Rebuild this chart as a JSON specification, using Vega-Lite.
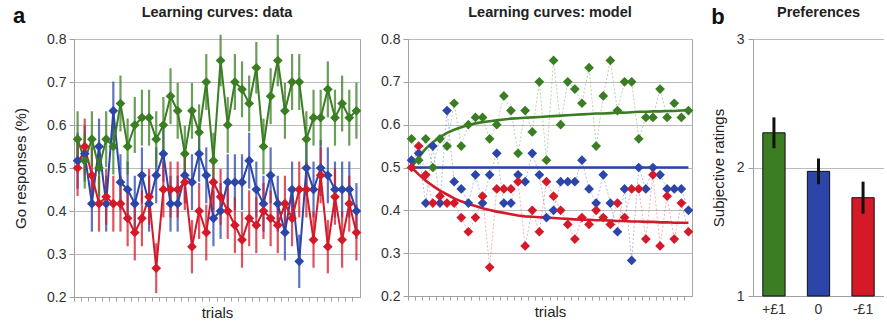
{
  "$schema": "https://vega.github.io/schema/vega-lite/v6.json",
  "padding": {"left": 13, "top": 4, "right": 0, "bottom": 0},
  "background": "white",
  "config": {
    "font": "Liberation Sans",
    "view": {"stroke": "#a6a6a6"},
    "axis": {"labelFontSize": 14, "titleFontSize": 15, "titleFontWeight": "normal", "labelColor": "#333333", "titleColor": "#222222", "domainColor": "#a0a0a0", "tickColor": "#a0a0a0", "gridColor": "#bbbbbb"},
    "title": {"fontSize": 14.5, "fontWeight": "bold", "frame": "group", "offset": 12, "color": "#222222"}
  },
  "datasets": {
    "trials": [
      {"t":1,"s":"neu","v":0.517,"e":0.065,"m":0.5},{"t":2,"s":"neu","v":0.533,"e":0.065,"m":0.5},{"t":3,"s":"neu","v":0.417,"e":0.065,"m":0.5},{"t":4,"s":"neu","v":0.55,"e":0.065,"m":0.5},{"t":5,"s":"neu","v":0.417,"e":0.065,"m":0.5},{"t":6,"s":"neu","v":0.633,"e":0.068,"m":0.5},{"t":7,"s":"neu","v":0.467,"e":0.065,"m":0.5},{"t":8,"s":"neu","v":0.45,"e":0.065,"m":0.5},{"t":9,"s":"neu","v":0.417,"e":0.065,"m":0.5},{"t":10,"s":"neu","v":0.483,"e":0.065,"m":0.5},
      {"t":11,"s":"neu","v":0.417,"e":0.065,"m":0.5},{"t":12,"s":"neu","v":0.483,"e":0.065,"m":0.5},{"t":13,"s":"neu","v":0.533,"e":0.065,"m":0.5},{"t":14,"s":"neu","v":0.417,"e":0.065,"m":0.5},{"t":15,"s":"neu","v":0.417,"e":0.065,"m":0.5},{"t":16,"s":"neu","v":0.483,"e":0.065,"m":0.5},{"t":17,"s":"neu","v":0.467,"e":0.065,"m":0.5},{"t":18,"s":"neu","v":0.533,"e":0.065,"m":0.5},{"t":19,"s":"neu","v":0.483,"e":0.065,"m":0.5},{"t":20,"s":"neu","v":0.383,"e":0.065,"m":0.5},
      {"t":21,"s":"neu","v":0.4,"e":0.065,"m":0.5},{"t":22,"s":"neu","v":0.467,"e":0.065,"m":0.5},{"t":23,"s":"neu","v":0.467,"e":0.065,"m":0.5},{"t":24,"s":"neu","v":0.467,"e":0.065,"m":0.5},{"t":25,"s":"neu","v":0.517,"e":0.065,"m":0.5},{"t":26,"s":"neu","v":0.45,"e":0.065,"m":0.5},{"t":27,"s":"neu","v":0.417,"e":0.065,"m":0.5},{"t":28,"s":"neu","v":0.483,"e":0.065,"m":0.5},{"t":29,"s":"neu","v":0.417,"e":0.065,"m":0.5},{"t":30,"s":"neu","v":0.35,"e":0.065,"m":0.5},
      {"t":31,"s":"neu","v":0.45,"e":0.065,"m":0.5},{"t":32,"s":"neu","v":0.283,"e":0.062,"m":0.5},{"t":33,"s":"neu","v":0.5,"e":0.065,"m":0.5},{"t":34,"s":"neu","v":0.45,"e":0.065,"m":0.5},{"t":35,"s":"neu","v":0.5,"e":0.065,"m":0.5},{"t":36,"s":"neu","v":0.483,"e":0.065,"m":0.5},{"t":37,"s":"neu","v":0.45,"e":0.065,"m":0.5},{"t":38,"s":"neu","v":0.45,"e":0.065,"m":0.5},{"t":39,"s":"neu","v":0.45,"e":0.065,"m":0.5},{"t":40,"s":"neu","v":0.4,"e":0.065,"m":0.5},
      {"t":1,"s":"neg","v":0.5,"e":0.065,"m":0.5},{"t":2,"s":"neg","v":0.55,"e":0.065,"m":0.484},{"t":3,"s":"neg","v":0.483,"e":0.065,"m":0.469},{"t":4,"s":"neg","v":0.417,"e":0.065,"m":0.457},{"t":5,"s":"neg","v":0.433,"e":0.065,"m":0.446},{"t":6,"s":"neg","v":0.417,"e":0.065,"m":0.437},{"t":7,"s":"neg","v":0.417,"e":0.065,"m":0.428},{"t":8,"s":"neg","v":0.383,"e":0.065,"m":0.421},{"t":9,"s":"neg","v":0.35,"e":0.065,"m":0.415},{"t":10,"s":"neg","v":0.383,"e":0.065,"m":0.41},
      {"t":11,"s":"neg","v":0.433,"e":0.065,"m":0.405},{"t":12,"s":"neg","v":0.267,"e":0.058,"m":0.401},{"t":13,"s":"neg","v":0.45,"e":0.065,"m":0.397},{"t":14,"s":"neg","v":0.45,"e":0.065,"m":0.394},{"t":15,"s":"neg","v":0.45,"e":0.065,"m":0.391},{"t":16,"s":"neg","v":0.467,"e":0.065,"m":0.388},{"t":17,"s":"neg","v":0.317,"e":0.062,"m":0.386},{"t":18,"s":"neg","v":0.4,"e":0.065,"m":0.385},{"t":19,"s":"neg","v":0.35,"e":0.065,"m":0.384},{"t":20,"s":"neg","v":0.467,"e":0.065,"m":0.383},
      {"t":21,"s":"neg","v":0.433,"e":0.065,"m":0.382},{"t":22,"s":"neg","v":0.4,"e":0.065,"m":0.381},{"t":23,"s":"neg","v":0.367,"e":0.065,"m":0.38},{"t":24,"s":"neg","v":0.333,"e":0.065,"m":0.379},{"t":25,"s":"neg","v":0.383,"e":0.065,"m":0.378},{"t":26,"s":"neg","v":0.367,"e":0.065,"m":0.378},{"t":27,"s":"neg","v":0.4,"e":0.065,"m":0.377},{"t":28,"s":"neg","v":0.383,"e":0.065,"m":0.377},{"t":29,"s":"neg","v":0.367,"e":0.065,"m":0.376},{"t":30,"s":"neg","v":0.417,"e":0.065,"m":0.375},
      {"t":31,"s":"neg","v":0.383,"e":0.065,"m":0.375},{"t":32,"s":"neg","v":0.45,"e":0.065,"m":0.374},{"t":33,"s":"neg","v":0.45,"e":0.065,"m":0.374},{"t":34,"s":"neg","v":0.333,"e":0.065,"m":0.373},{"t":35,"s":"neg","v":0.483,"e":0.065,"m":0.373},{"t":36,"s":"neg","v":0.317,"e":0.062,"m":0.372},{"t":37,"s":"neg","v":0.433,"e":0.065,"m":0.372},{"t":38,"s":"neg","v":0.333,"e":0.065,"m":0.371},{"t":39,"s":"neg","v":0.417,"e":0.065,"m":0.371},{"t":40,"s":"neg","v":0.35,"e":0.065,"m":0.371},
      {"t":1,"s":"pos","v":0.567,"e":0.065,"m":0.5},{"t":2,"s":"pos","v":0.517,"e":0.065,"m":0.524},{"t":3,"s":"pos","v":0.567,"e":0.065,"m":0.544},{"t":4,"s":"pos","v":0.5,"e":0.065,"m":0.559},{"t":5,"s":"pos","v":0.567,"e":0.065,"m":0.571},{"t":6,"s":"pos","v":0.55,"e":0.065,"m":0.581},{"t":7,"s":"pos","v":0.65,"e":0.065,"m":0.588},{"t":8,"s":"pos","v":0.55,"e":0.065,"m":0.594},{"t":9,"s":"pos","v":0.6,"e":0.065,"m":0.599},{"t":10,"s":"pos","v":0.617,"e":0.065,"m":0.603},
      {"t":11,"s":"pos","v":0.617,"e":0.065,"m":0.606},{"t":12,"s":"pos","v":0.567,"e":0.065,"m":0.608},{"t":13,"s":"pos","v":0.6,"e":0.065,"m":0.61},{"t":14,"s":"pos","v":0.667,"e":0.065,"m":0.612},{"t":15,"s":"pos","v":0.633,"e":0.065,"m":0.614},{"t":16,"s":"pos","v":0.533,"e":0.065,"m":0.615},{"t":17,"s":"pos","v":0.633,"e":0.065,"m":0.616},{"t":18,"s":"pos","v":0.583,"e":0.065,"m":0.617},{"t":19,"s":"pos","v":0.7,"e":0.065,"m":0.618},{"t":20,"s":"pos","v":0.517,"e":0.065,"m":0.619},
      {"t":21,"s":"pos","v":0.75,"e":0.06,"m":0.62},{"t":22,"s":"pos","v":0.6,"e":0.065,"m":0.621},{"t":23,"s":"pos","v":0.7,"e":0.065,"m":0.622},{"t":24,"s":"pos","v":0.683,"e":0.065,"m":0.623},{"t":25,"s":"pos","v":0.65,"e":0.065,"m":0.624},{"t":26,"s":"pos","v":0.733,"e":0.06,"m":0.625},{"t":27,"s":"pos","v":0.55,"e":0.065,"m":0.626},{"t":28,"s":"pos","v":0.667,"e":0.065,"m":0.626},{"t":29,"s":"pos","v":0.75,"e":0.06,"m":0.627},{"t":30,"s":"pos","v":0.633,"e":0.065,"m":0.628},
      {"t":31,"s":"pos","v":0.7,"e":0.065,"m":0.628},{"t":32,"s":"pos","v":0.7,"e":0.065,"m":0.629},{"t":33,"s":"pos","v":0.567,"e":0.065,"m":0.63},{"t":34,"s":"pos","v":0.617,"e":0.065,"m":0.63},{"t":35,"s":"pos","v":0.617,"e":0.065,"m":0.631},{"t":36,"s":"pos","v":0.683,"e":0.065,"m":0.631},{"t":37,"s":"pos","v":0.617,"e":0.065,"m":0.632},{"t":38,"s":"pos","v":0.65,"e":0.065,"m":0.632},{"t":39,"s":"pos","v":0.617,"e":0.065,"m":0.633},{"t":40,"s":"pos","v":0.633,"e":0.065,"m":0.634}
    ],
    "prefs": [
      {"c":"+£1","r":2.27,"e":0.12},
      {"c":"0","r":1.97,"e":0.1},
      {"c":"-£1","r":1.765,"e":0.125}
    ]
  },
  "spacing": 16,
  "hconcat": [
    {
      "title": {"text": "a", "anchor": "start", "frame": "bounds", "fontSize": 22, "fontWeight": "bold", "offset": -24, "color": "#111111"},
      "spacing": 18,
      "hconcat": [
        {
          "width": 286, "height": 258,
          "title": "Learning curves: data",
          "data": {"name": "trials"},
          "encoding": {
            "x": {"field": "t", "type": "ordinal", "scale": {"type": "band", "paddingInner": 0, "paddingOuter": 0}, "axis": {"title": "trials", "labels": false, "bandPosition": 0, "tickSize": 4, "grid": false, "titlePadding": 4}},
            "y": {"field": "v", "type": "quantitative", "scale": {"domain": [0.2, 0.8]}, "axis": {"title": "Go responses (%)", "values": [0.2, 0.3, 0.4, 0.5, 0.6, 0.7, 0.8], "format": ".1f", "tickSize": 5, "labelPadding": 3, "titlePadding": 18, "grid": true}},
            "color": {"field": "s", "type": "nominal", "scale": {"domain": ["pos", "neu", "neg"], "range": ["#3a7d22", "#2b45a8", "#d41a28"]}, "legend": null}
          },
          "layer": [
            {"mark": {"type": "errorbar", "thickness": 2.2, "opacity": 0.75}, "encoding": {"yError": {"field": "e"}}},
            {"mark": {"type": "line", "strokeWidth": 2, "point": {"shape": "diamond", "size": 95, "filled": true, "opacity": 1}}}
          ]
        },
        {
          "width": 284, "height": 257,
          "title": "Learning curves: model",
          "data": {"name": "trials"},
          "encoding": {
            "x": {"field": "t", "type": "ordinal", "scale": {"type": "band", "paddingInner": 0, "paddingOuter": 0}, "axis": {"title": "trials", "labels": false, "bandPosition": 0, "tickSize": 4, "grid": false, "titlePadding": 4}},
            "color": {"field": "s", "type": "nominal", "scale": {"domain": ["pos", "neu", "neg"], "range": ["#3a7d22", "#2b45a8", "#d41a28"]}, "legend": null}
          },
          "layer": [
            {"mark": {"type": "line", "strokeWidth": 1, "strokeDash": [2, 2], "opacity": 0.35}, "encoding": {"y": {"field": "v", "type": "quantitative", "scale": {"domain": [0.2, 0.8]}, "axis": {"title": null, "values": [0.2, 0.3, 0.4, 0.5, 0.6, 0.7, 0.8], "format": ".1f", "tickSize": 5, "labelPadding": 3, "grid": true}}}},
            {"mark": {"type": "line", "strokeWidth": 2.6}, "encoding": {"y": {"field": "m", "type": "quantitative", "scale": {"domain": [0.2, 0.8]}}}},
            {"mark": {"type": "point", "shape": "diamond", "size": 95, "filled": true, "opacity": 1}, "encoding": {"y": {"field": "v", "type": "quantitative", "scale": {"domain": [0.2, 0.8]}}}}
          ]
        }
      ]
    },
    {
      "title": {"text": "b", "anchor": "start", "frame": "bounds", "fontSize": 22, "fontWeight": "bold", "offset": -24, "color": "#111111"},
      "hconcat": [
        {
          "width": 131, "height": 257,
          "title": "Preferences",
          "view": {"stroke": null},
          "data": {"name": "prefs"},
          "encoding": {
            "x": {"field": "c", "type": "nominal", "sort": null, "scale": {"paddingInner": 0.5, "paddingOuter": 0.22}, "axis": {"title": null, "labelAngle": 0, "ticks": false, "labelPadding": 6, "labelFontSize": 14}},
            "y": {"field": "r", "type": "quantitative", "scale": {"domain": [1, 3]}, "axis": {"title": "Subjective ratings", "values": [1, 2, 3], "format": ".0f", "tickSize": 5, "labelPadding": 4, "titlePadding": 10, "grid": true}}
          },
          "layer": [
            {"mark": {"type": "bar", "stroke": "#111111", "strokeWidth": 1},
             "encoding": {
               "y2": {"datum": 1},
               "color": {"field": "c", "type": "nominal", "scale": {"domain": ["+£1", "0", "-£1"], "range": ["#386e22", "#2c44a4", "#cc1120"]}, "legend": null}
             }},
            {"mark": {"type": "errorbar", "color": "#111111", "thickness": 3}, "encoding": {"yError": {"field": "e"}}}
          ]
        }
      ]
    }
  ]
}
